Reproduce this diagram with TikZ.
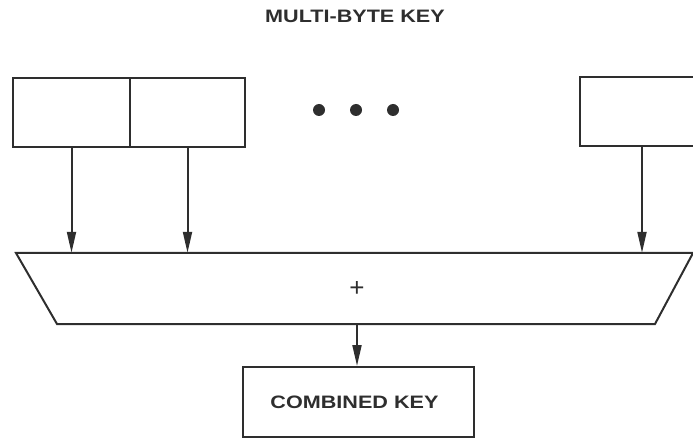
\documentclass[tikz,border=0pt]{standalone}
\usepackage{fontspec}
\setmainfont{Liberation Sans}
\newfontfamily\labelfont[FakeStretch=1.2]{Liberation Sans Bold}
\usetikzlibrary{arrows.meta,calc}
\definecolor{ink}{HTML}{2E2E2E}
\tikzset{
  ink line/.style={draw=ink, line width=2pt},
  keybox/.style={ink line, rectangle, inner sep=0pt},
  arr/.style={ink line, -{Triangle[length=21pt,width=9pt]}},
  caption/.style={font=\labelfont\fontsize{18}{18}\selectfont, text=ink, inner sep=0pt},
  dot/.style={circle, fill=ink, minimum size=12pt, inner sep=0pt},
}
\begin{document}
\begin{tikzpicture}[x=1pt,y=-1pt]
  \clip (0,0) rectangle (693,438);
  % title
  \node[caption] (title) at (355,16) {MULTI-BYTE KEY};
  % byte boxes
  \node[keybox, minimum width=117pt, minimum height=69pt] (b1) at (71.5,112.5) {};
  \node[keybox, minimum width=115pt, minimum height=69pt] (b2) at (187.5,112.5) {};
  \node[keybox, minimum width=124pt, minimum height=69pt] (b3) at (642,111.5) {};
  % ellipsis dots
  \node[dot] (d1) at (319,110) {};
  \node[dot] (d2) at (356,110) {};
  \node[dot] (d3) at (393,110) {};
  % summing trapezoid
  \node[minimum width=600pt, minimum height=71pt, inner sep=0pt, font=\fontsize{26}{26}\selectfont, text=ink] (sum) at (357,288.5) {+};
  \draw[ink line, line join=miter] (16,253) -- (693,253) -- (655,324) -- (57,324) -- cycle;
  % combined key
  \node[keybox, minimum width=231pt, minimum height=70pt] (comb) at (358.5,402) {};
  \node[caption] (combtext) at ($(comb.center)+(-4,0)$) {COMBINED KEY};
  % arrows
  \draw[arr] (b1.south) -- (b1.south |- sum.north);
  \draw[arr] (b2.south) -- (b2.south |- sum.north);
  \draw[arr] (b3.south) -- (b3.south |- sum.north);
  \draw[arr] (sum.south) -- (sum.south |- comb.north);
\end{tikzpicture}
\end{document}
